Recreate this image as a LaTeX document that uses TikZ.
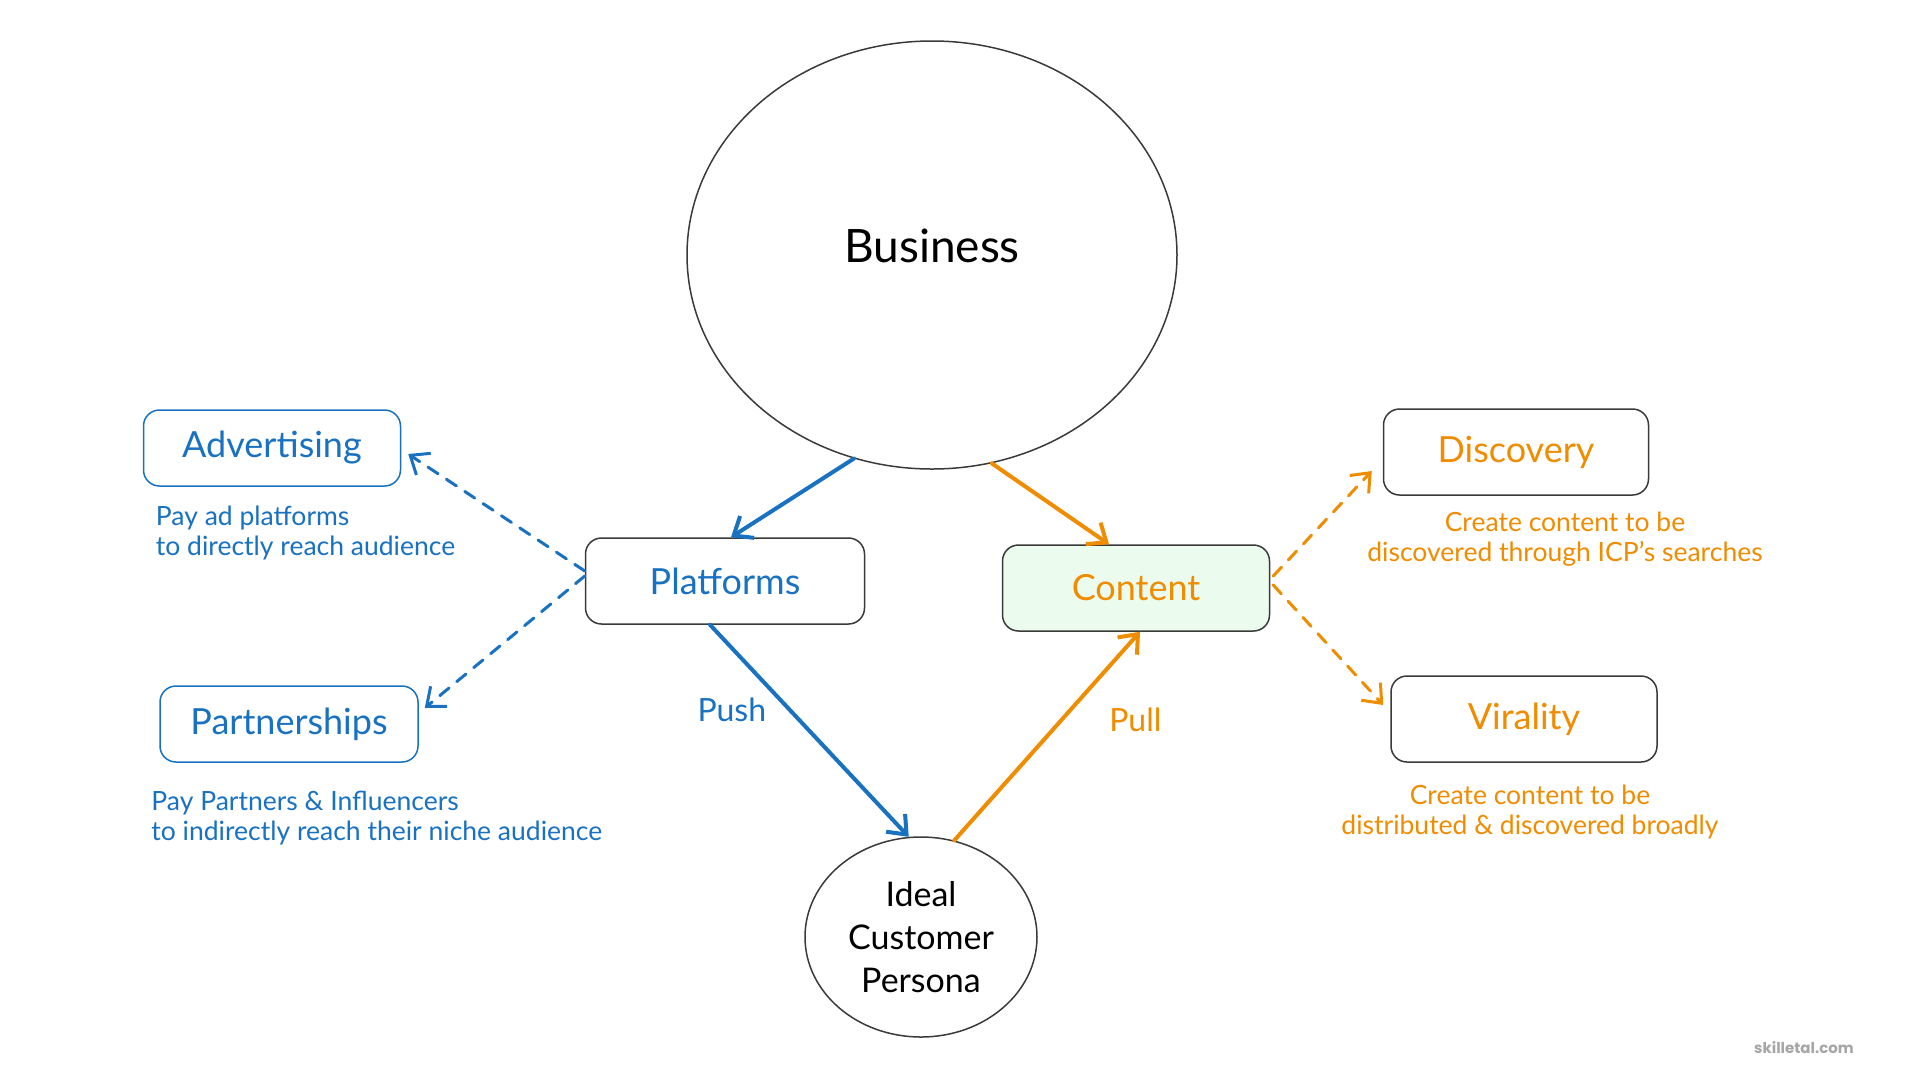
\documentclass[tikz,border=0pt]{standalone}
\usepackage{fontspec}
\setmainfont{Lato}
\newfontfamily\markfont{Poppins}
\usetikzlibrary{arrows.meta,positioning,shapes.geometric}

\definecolor{pushblue}{HTML}{1971C2}
\definecolor{pullorange}{HTML}{F08C00}
\definecolor{contentgreen}{HTML}{EBFBEE}
\definecolor{edgegray}{HTML}{3A3A3A}

\begin{document}
\begin{tikzpicture}[
    x = 1pt, y = -1pt, % pixel grid, y going down
    > = {Straight Barb[length=16pt,width=26pt]}, % open arrow head
    line cap = round,
    line join = round
    ]

    \tikzset{
    sbox/.style = {draw = edgegray, line width = 1.5pt, rounded corners = 16pt,
        minimum height = 86pt, font = \fontsize{36}{40}\selectfont},
    note/.style = {inner sep = 0pt, font = \fontsize{26.5}{30.5}\selectfont},
    flow/.style = {->, line width = 4pt},
    hint/.style = {->, line width = 3pt, dash pattern = on 12pt off 10pt}
    }

    \path[use as bounding box, fill = white] (0,0) rectangle (1920,1080);

    % the two ends
    \node[ellipse, draw = edgegray, line width = 1.5pt, minimum width = 490pt,
        minimum height = 428pt, text depth = 18pt,
        font = \fontsize{46}{50}\selectfont] (business) at (932,255) {Business};
    \node[ellipse, draw = edgegray, line width = 1.5pt, minimum width = 232pt,
        minimum height = 200pt, align = center, inner sep = 0pt,
        font = \fontsize{34}{43}\selectfont] (icp) at (921,937) {Ideal\\Customer\\Persona};

    % channels
    \node[sbox, text = pushblue, minimum width = 279pt] (platforms) at (725,581) {Platforms};
    \node[sbox, text = pullorange, fill = contentgreen, minimum width = 267pt] (content) at (1136,588) {Content};
    \node[sbox, draw = pushblue, text = pushblue, minimum width = 257pt, minimum height = 76pt] (advertising) at (272,448) {Advertising};
    \node[sbox, draw = pushblue, text = pushblue, minimum width = 258pt, minimum height = 76pt] (partnerships) at (289,724) {Partnerships};
    \node[sbox, text = pullorange, minimum width = 265pt] (discovery) at (1516,452) {Discovery};
    \node[sbox, text = pullorange, minimum width = 266pt] (virality) at (1524,719) {Virality};

    % notes under the boxes
    \node[note, text = pushblue, align = left, below = 19pt of advertising.south west,
        anchor = north west, xshift = 13pt] (adnote) {Pay ad platforms\\to directly reach audience};
    \node[note, text = pushblue, align = left, below = 28pt of partnerships.south west,
        anchor = north west, xshift = -8pt] (partnote) {Pay Partners \& Influencers\\to indirectly reach their niche audience};
    \node[note, text = pullorange, align = center, below = 16pt of discovery.south,
        xshift = 49pt] (discnote) {Create content to be\\discovered through ICP's searches};
    \node[note, text = pullorange, align = center, below = 22pt of virality.south,
        xshift = 6pt] (viralnote) {Create content to be\\distributed \& discovered broadly};

    % push and pull
    \draw[flow, pushblue] (business.249) -- ([xshift=6pt]platforms.north);
    \draw[flow, pullorange] (business.286) -- ([xshift=-27pt]content.north);
    \draw[flow, pushblue] ([xshift=-15pt]platforms.south) --
        node[pos = 0.4, left = 18pt, font = \fontsize{32}{36}\selectfont] (push) {Push} (icp.97);
    \draw[flow, pullorange] (icp.71) --
        node[pos = 0.58, right = 42pt, font = \fontsize{32}{36}\selectfont] (pull) {Pull} ([xshift=4pt]content.south);

    \draw[hint, pushblue] ([yshift=10pt]platforms.west) -- ([xshift=7pt,yshift=-6pt]advertising.east);
    \draw[hint, pushblue] ([yshift=5pt]platforms.west) -- ([xshift=6pt,yshift=16pt]partnerships.east);
    \draw[hint, pullorange] ([xshift=3pt,yshift=12pt]content.east) -- ([xshift=-11pt,yshift=-19pt]discovery.west);
    \draw[hint, pullorange] ([xshift=3pt,yshift=3pt]content.east) -- ([xshift=-7pt,yshift=14pt]virality.west);

    \node[font = \markfont\bfseries\fontsize{15}{18}\selectfont, text = gray!70] (credit) at (1804,1048) {skilletal.com};
\end{tikzpicture}
\end{document}
